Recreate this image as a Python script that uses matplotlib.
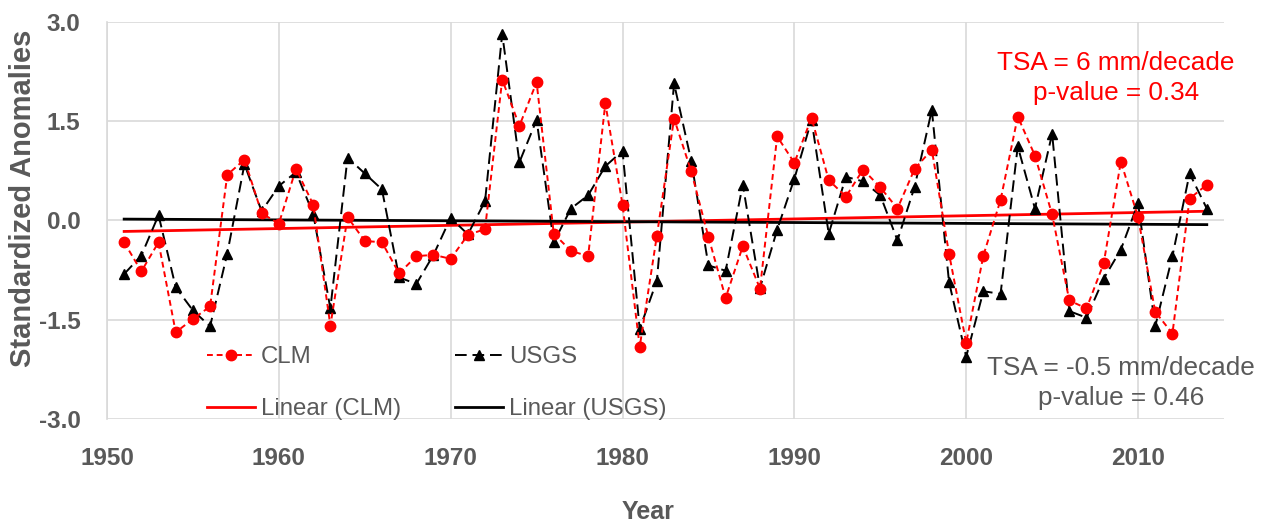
import numpy as np
from matplotlib import pyplot as plt

years = list(range(1951, 2015))
clm = [-0.33, -0.77, -0.33, -1.69, -1.49, -1.30, 0.69, 0.92, 0.11, -0.05,
       0.78, 0.24, -1.59, 0.05, -0.31, -0.33, -0.80, -0.54, -0.52, -0.58,
       -0.22, -0.13, 2.13, 1.43, 2.09, -0.20, -0.46, -0.54, 1.77, 0.24,
       -1.91, -0.23, 1.54, 0.74, -0.25, -1.17, -0.39, -1.03, 1.27, 0.87,
       1.55, 0.61, 0.36, 0.77, 0.50, 0.18, 0.78, 1.07, -0.50, -1.85,
       -0.53, 0.31, 1.57, 0.98, 0.09, -1.21, -1.33, -0.65, 0.89, 0.05,
       -1.38, -1.71, 0.33, 0.54]
usgs = [-0.81, -0.53, 0.08, -1.01, -1.36, -1.60, -0.50, 0.85, 0.14, 0.52,
        0.73, 0.10, -1.33, 0.95, 0.71, 0.47, -0.86, -0.96, -0.52, 0.04,
        -0.21, 0.29, 2.82, 0.88, 1.52, -0.33, 0.18, 0.38, 0.82, 1.05,
        -1.64, -0.91, 2.07, 0.90, -0.68, -0.76, 0.54, -1.02, -0.14, 0.63,
        1.52, -0.20, 0.66, 0.59, 0.38, -0.30, 0.51, 1.67, -0.93, -2.06,
        -1.07, -1.11, 1.12, 0.18, 1.31, -1.37, -1.47, -0.88, -0.44, 0.26,
        -1.60, -0.54, 0.71, 0.18]
xticks = [1950, 1960, 1970, 1980, 1990, 2000, 2010]
yticks = [-3.0, -1.5, 0.0, 1.5, 3.0]

plt.rcdefaults()
plt.rcParams["font.family"] = ["Liberation Sans", "DejaVu Sans"]
grey = "#595959"

fig = plt.figure(figsize=(12.66, 5.23), dpi=100)
ax = fig.add_axes([0.0845, 0.199, 0.8823, 0.759])

x = np.array(years)
clm_fit = np.polyval(np.polyfit(x, clm, 1), x)
usgs_fit = np.polyval(np.polyfit(x, usgs, 1), x)

l1, = ax.plot(x, clm, color="red", lw=1.4, dashes=(3, 2), marker="o", ms=7.5,
              label="CLM", zorder=4)
l2, = ax.plot(x, usgs, color="black", lw=1.4, dashes=(6, 3), marker="^", ms=7.5,
              label="USGS", zorder=3)
l3, = ax.plot(x, clm_fit, color="red", lw=2, label="Linear (CLM)", zorder=2)
l4, = ax.plot(x, usgs_fit, color="black", lw=2, label="Linear (USGS)", zorder=2)

ax.set_xlim(1950, 2015)
ax.set_ylim(-3.0, 3.0)
ax.set_xticks(xticks)
ax.set_yticks(yticks)
ax.set_yticklabels([f"{v:.1f}" for v in yticks])
ax.grid(True, color="#d9d9d9", lw=1.2)
ax.set_axisbelow(True)
for side in ["top", "right", "bottom"]:
    ax.spines[side].set_visible(False)
ax.spines["left"].set_color("#d9d9d9")
ax.spines["left"].set_linewidth(1.2)
ax.tick_params(length=0, labelsize=17.5, labelcolor=grey)
ax.tick_params(axis="x", pad=20)
ax.tick_params(axis="y", pad=19)
for lab in ax.get_xticklabels() + ax.get_yticklabels():
    lab.set_fontweight("bold")

ax.set_ylabel("Standardized Anomalies", fontsize=21, fontweight="bold", color=grey)
ax.yaxis.set_label_coords(-0.0625, 0.557)
ax.set_xlabel("Year", fontsize=18, fontweight="bold", color=grey)
ax.xaxis.set_label_coords(0.484, -0.205)

# column-major order so each row reads "series, series" / "trend, trend"
leg = ax.legend([l1, l3, l2, l4], ["CLM", "Linear (CLM)", "USGS", "Linear (USGS)"],
                ncol=2, loc="lower left", bbox_to_anchor=(0.0805, -0.028),
                frameon=False, fontsize=17.3, handlelength=2.0,
                handletextpad=0.25, columnspacing=2.25, labelspacing=1.25,
                borderaxespad=0.0)
for t in leg.get_texts():
    t.set_color(grey)

ax.text(2008.7, 2.15, "TSA = 6 mm/decade\np-value = 0.34", color="red",
        fontsize=18.8, ha="center", va="center", linespacing=1.31)
ax.text(2009.0, -2.46, "TSA = -0.5 mm/decade\np-value = 0.46", color=grey,
        fontsize=18.8, ha="center", va="center", linespacing=1.31)

plt.savefig("out.png", dpi=100)
